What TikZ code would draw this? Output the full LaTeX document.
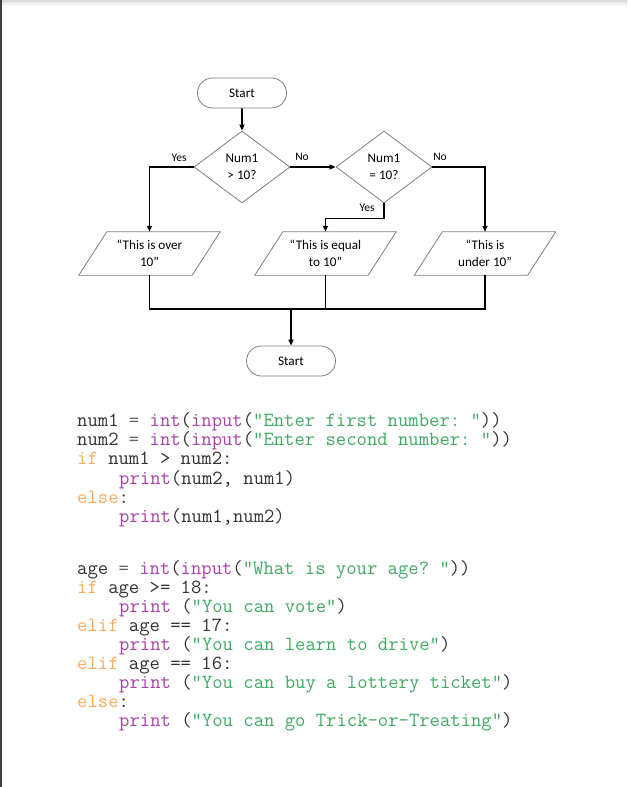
\documentclass[tikz,border=0pt]{standalone}
\usepackage{fontspec}
\setmainfont{Carlito}
\usetikzlibrary{shapes.geometric,shapes.misc,arrows.meta,calc}
\definecolor{kw}{RGB}{250,172,95}
\definecolor{fn}{RGB}{170,65,170}
\definecolor{st}{RGB}{65,170,100}
\definecolor{tx}{RGB}{50,50,50}
\definecolor{eq}{RGB}{100,100,100}
\definecolor{edge}{RGB}{128,128,128}
\definecolor{sidebar}{RGB}{60,64,67}
\frenchspacing
\begin{document}
\begin{tikzpicture}[x=1pt,y=-1pt,
  term/.style={rounded rectangle, draw=edge, line width=0.8pt, minimum width=89pt, minimum height=30pt, inner sep=0pt, font=\fontsize{13.2}{15}\selectfont},
  dec/.style={diamond, draw=edge, line width=0.8pt, minimum width=96pt, minimum height=72pt, inner sep=0pt, aspect=1.33, align=center, font=\fontsize{13.2}{16.5}\selectfont},
  io/.style={rectangle, minimum width=113pt, minimum height=43pt, inner sep=0pt, align=center, font=\fontsize{13.2}{16.5}\selectfont},
  iopath/.style={draw=edge, line width=0.8pt},
  flow/.style={draw=black, line width=1.6pt},
  arr/.style={flow, -{Triangle[length=6pt,width=5pt]}},
  lab/.style={font=\fontsize{11.5}{13}\selectfont, inner sep=0pt},
  code/.style={anchor=base west, inner sep=0pt, font=\ttfamily\frenchspacing\fontsize{20.1}{21}\selectfont, text=tx}
]
\useasboundingbox (0,0) rectangle (627,787);
\fill[white] (0,0) rectangle (627,787);
% page edge and top shadow
\fill[black!14] (0,0) rectangle (627,1.5);
\fill[black!9] (0,1.5) rectangle (627,3);
\fill[black!5] (0,3) rectangle (627,4.5);
\fill[black!2] (0,4.5) rectangle (627,6);
\fill[sidebar] (0,0) rectangle (2.2,787);

% flowchart nodes
\node[term] (s) at (242,93) {Start};
\node[dec] (d1) at (242,167) {Num1\\> 10?};
\node[dec] (d2) at (384,167) {Num1\\= 10?};
\node[io] (p1) at (149.5,253.5) {“This is over\\10”};
\node[io] (p2) at (325.5,253.5) {“This is equal\\to 10”};
\node[io] (p3) at (485,253.5) {“This is\\under 10”};
\node[term] (e) at (291,361) {Start};
\foreach \p in {p1,p2,p3}{
  \draw[iopath] ($(\p.south west)+(-14,0)$) -- ($(\p.south east)+(-14,0)$)
     -- ($(\p.north east)+(14,0)$) -- ($(\p.north west)+(14,0)$) -- cycle;
}
\coordinate (m) at (291,309);

% connectors
\draw[arr] (s) -- (d1);
\draw[arr] (d1.east) -- (d2.west);
\draw[arr] (d1.west) -| (p1.north);
\draw[arr] (d2.east) -| (p3.north);
\draw[arr] (d2.south) -- ++(0,15) -| (p2.north);
\draw[flow] (p1.south) |- (m) -| (p3.south);
\draw[flow] (p2.south) -- (p2.south |- m);
\draw[arr] (m) -- (e);

% labels
\node[lab] (y1) at (179,158) {Yes};
\node[lab] (n1) at (302,157) {No};
\node[lab] (n2) at (440,157) {No};
\node[lab] (y2) at (367,208) {Yes};

% code block 1
\node[code] (c1) at (77,426.5) {num1 \textcolor{eq}{=} \textcolor{fn}{int}(\textcolor{fn}{input}(\textcolor{st}{"Enter first number: "}))};
\node[code] (c2) at (77,445.7) {num2 \textcolor{eq}{=} \textcolor{fn}{int}(\textcolor{fn}{input}(\textcolor{st}{"Enter second number: "}))};
\node[code] (c3) at (77,464.9) {\textcolor{kw}{if} num1 > num2:};
\node[code] (c4) at (119,484.1) {\textcolor{fn}{print}(num2, num1)};
\node[code] (c5) at (77,503.3) {\textcolor{kw}{else}:};
\node[code] (c6) at (119,522.5) {\textcolor{fn}{print}(num1,num2)};

% code block 2
\node[code] (a1) at (77,574.0) {age \textcolor{eq}{=} \textcolor{fn}{int}(\textcolor{fn}{input}(\textcolor{st}{"What is your age? "}))};
\node[code] (a2) at (77,593.1) {\textcolor{kw}{if} age >= 18:};
\node[code] (a3) at (119,612.2) {\textcolor{fn}{print} (\textcolor{st}{"You can vote"})};
\node[code] (a4) at (77,631.3) {\textcolor{kw}{elif} age == 17:};
\node[code] (a5) at (119,650.4) {\textcolor{fn}{print} (\textcolor{st}{"You can learn to drive"})};
\node[code] (a6) at (77,669.5) {\textcolor{kw}{elif} age == 16:};
\node[code] (a7) at (119,688.6) {\textcolor{fn}{print} (\textcolor{st}{"You can buy a lottery ticket"})};
\node[code] (a8) at (77,707.7) {\textcolor{kw}{else}:};
\node[code] (a9) at (119,726.8) {\textcolor{fn}{print} (\textcolor{st}{"You can go Trick-or-Treating"})};
\end{tikzpicture}
\end{document}
